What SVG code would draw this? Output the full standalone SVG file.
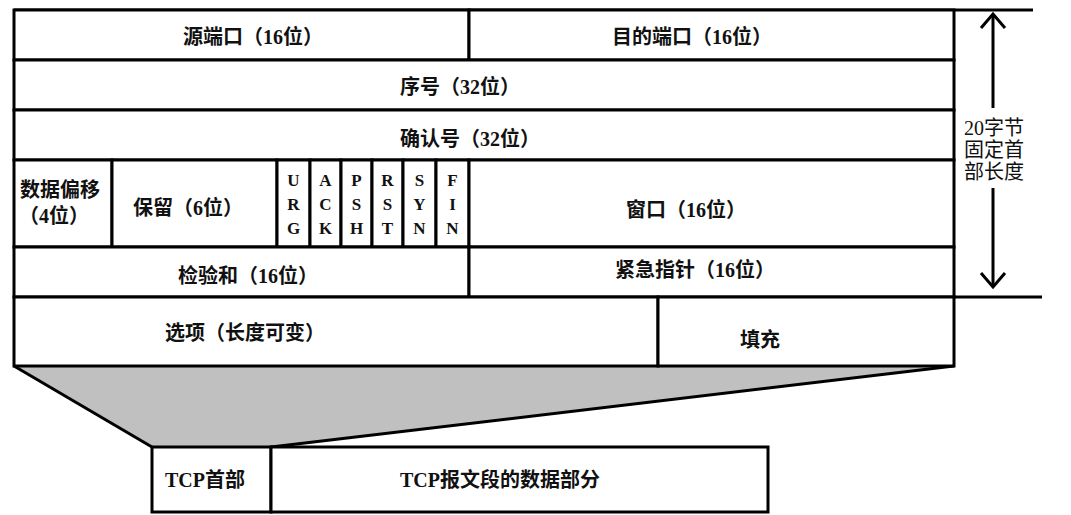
<svg xmlns="http://www.w3.org/2000/svg" width="1071" height="515" viewBox="0 0 1071 515">
<style>
.c{fill:#fff;stroke:#000;stroke-width:3}
.t{font-family:"Liberation Serif","Noto Sans CJK SC",serif;font-weight:bold;font-size:20px;fill:#111;dominant-baseline:central}
.f{font-family:"Liberation Serif",serif;font-weight:bold;font-size:17px;fill:#111;text-anchor:middle;dominant-baseline:central}
.r{font-family:"Liberation Serif","Noto Sans CJK SC",serif;font-size:20px;fill:#111;dominant-baseline:central}
.l{stroke:#000;stroke-width:3;fill:none}
</style>
<rect width="1071" height="515" fill="#fff"/>
<g id="connectors">
<polygon points="14,366 954,366 271,447 152,447" fill="#c0c0c0" stroke="none"/>
<line class="l" x1="14" y1="366" x2="152" y2="447"/>
<line class="l" x1="954" y1="366" x2="271" y2="447"/>
<line class="l" x1="14" y1="10" x2="1033" y2="10"/>
<line class="l" x1="954" y1="297" x2="1042" y2="297"/>
<line class="l" x1="993" y1="14" x2="993" y2="108"/>
<polyline class="l" points="981,28 993,14 1005,28"/>
<line class="l" x1="993" y1="188" x2="993" y2="287"/>
<polyline class="l" points="981,273 993,287 1005,273"/>
</g>
<g id="src-port"><rect class="c" x="14" y="10" width="455" height="50"/><text class="t" x="183" y="37">源端口（16位）</text></g>
<g id="dst-port"><rect class="c" x="469" y="10" width="485" height="50"/><text class="t" x="612" y="37">目的端口（16位）</text></g>
<g id="seq"><rect class="c" x="14" y="60" width="940" height="50"/><text class="t" x="400" y="87">序号（32位）</text></g>
<g id="ack"><rect class="c" x="14" y="110" width="940" height="50"/><text class="t" x="400" y="139">确认号（32位）</text></g>
<g id="offset"><rect class="c" x="14" y="160" width="98" height="87"/><text class="t" x="20" y="190">数据偏移</text><text class="t" x="19" y="216">（4位）</text></g>
<g id="reserved"><rect class="c" x="112" y="160" width="165" height="87"/><text class="t" x="133" y="208">保留（6位）</text></g>
<g id="urg"><rect class="c" x="277" y="160" width="33" height="87"/><text class="f" x="293.5" y="180">U</text><text class="f" x="293.5" y="204">R</text><text class="f" x="293.5" y="228">G</text></g>
<g id="ackf"><rect class="c" x="310" y="160" width="31" height="87"/><text class="f" x="325.5" y="180">A</text><text class="f" x="325.5" y="204">C</text><text class="f" x="325.5" y="228">K</text></g>
<g id="psh"><rect class="c" x="341" y="160" width="31" height="87"/><text class="f" x="356.5" y="180">P</text><text class="f" x="356.5" y="204">S</text><text class="f" x="356.5" y="228">H</text></g>
<g id="rst"><rect class="c" x="372" y="160" width="31" height="87"/><text class="f" x="387.5" y="180">R</text><text class="f" x="387.5" y="204">S</text><text class="f" x="387.5" y="228">T</text></g>
<g id="syn"><rect class="c" x="403" y="160" width="33" height="87"/><text class="f" x="419.5" y="180">S</text><text class="f" x="419.5" y="204">Y</text><text class="f" x="419.5" y="228">N</text></g>
<g id="fin"><rect class="c" x="436" y="160" width="33" height="87"/><text class="f" x="452.5" y="180">F</text><text class="f" x="452.5" y="204">I</text><text class="f" x="452.5" y="228">N</text></g>
<g id="window"><rect class="c" x="469" y="160" width="485" height="87"/><text class="t" x="626" y="210">窗口（16位）</text></g>
<g id="checksum"><rect class="c" x="14" y="247" width="455" height="50"/><text class="t" x="178" y="276">检验和（16位）</text></g>
<g id="urgent"><rect class="c" x="469" y="247" width="485" height="50"/><text class="t" x="615" y="270">紧急指针（16位）</text></g>
<g id="options"><rect class="c" x="14" y="297" width="644" height="69"/><text class="t" x="165" y="333">选项（长度可变）</text></g>
<g id="padding"><rect class="c" x="658" y="297" width="296" height="69"/><text class="t" x="740" y="340">填充</text></g>
<g id="tcp-header"><rect class="c" x="152" y="447" width="119" height="65"/><text class="t" x="165" y="480">TCP首部</text></g>
<g id="tcp-data"><rect class="c" x="271" y="447" width="497" height="65"/><text class="t" x="400" y="480">TCP报文段的数据部分</text></g>
<g id="header-length"><text class="r" x="964" y="128">20字节</text><text class="r" x="964" y="150">固定首</text><text class="r" x="964" y="172">部长度</text></g>
</svg>
